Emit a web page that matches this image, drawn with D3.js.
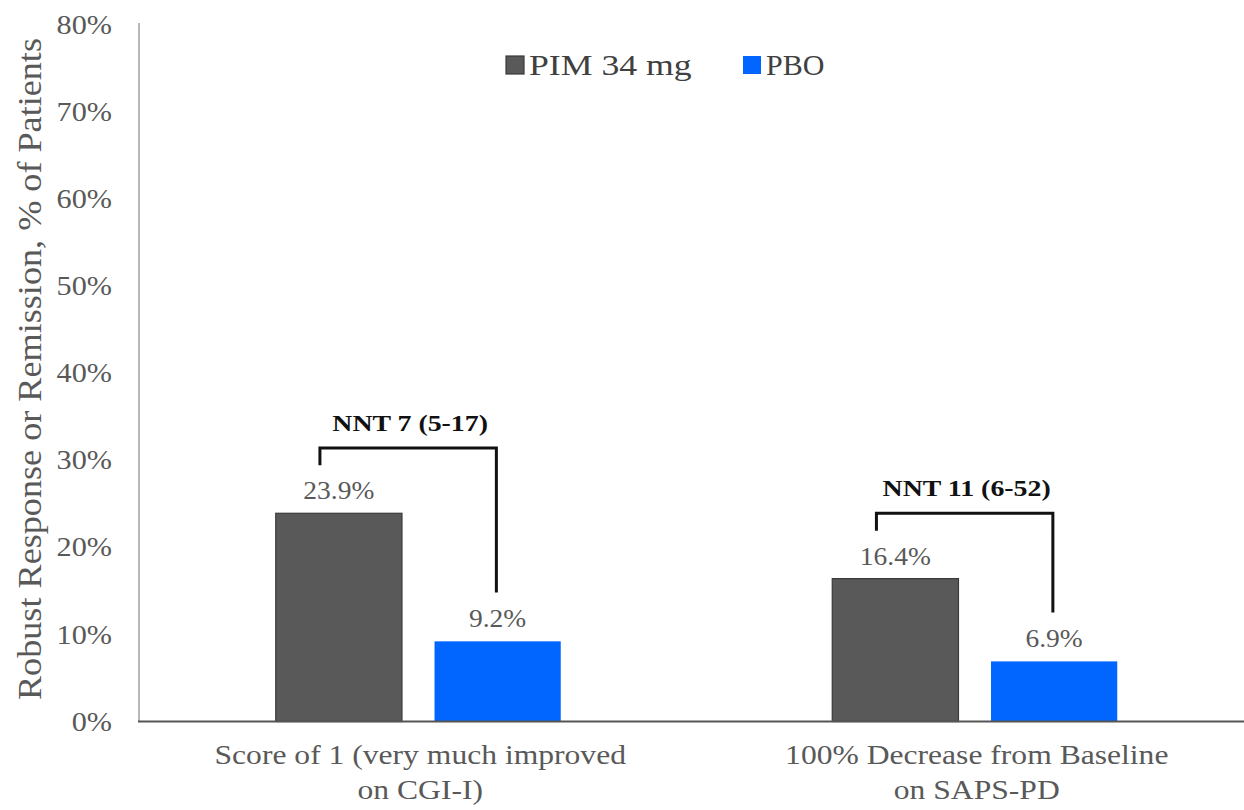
<!DOCTYPE html>
<html>
<head>
<meta charset="utf-8">
<script src="https://cdn.jsdelivr.net/npm/d3@7"></script>
<style>
  html, body { margin: 0; padding: 0; background: #fff; }
  svg { display: block; }
  text { font-family: "Liberation Serif", "Times New Roman", serif; }
</style>
</head>
<body>
<svg id="chart" width="1244" height="810"></svg>
<script>
// Categories (two-line labels) and series
const categories = ["Score of 1 (very much improved|on CGI-I)", "100% Decrease from Baseline|on SAPS-PD"];
const seriesNames = ["PIM 34 mg", "PBO"];
const pimValues = [23.9, 16.4];
const pboValues = [9.2, 6.9];
const nntLabels = ["NNT 7 (5-17)", "NNT 11 (6-52)"];
const yTicks = [0, 10, 20, 30, 40, 50, 60, 70, 80];

const colors = { "PIM 34 mg": "#595959", "PBO": "#0066ff" };
const gray = "#595959";

const svg = d3.select("#chart");

// stretch text horizontally by a factor
function stretch(sel, k) {
  sel.each(function () {
    const w = this.getComputedTextLength();
    this.setAttribute("textLength", w * k);
    this.setAttribute("lengthAdjust", "spacingAndGlyphs");
  });
}

const y = d3.scaleLinear().domain([0, 80]).range([721.5, 24.5]);
const x0 = d3.scaleBand().domain(categories).range([140, 1253]).padding(0);
const bw0 = x0.bandwidth();
const groupW = 285;
const x1 = d3.scaleBand().domain(seriesNames)
  .range([(bw0 - groupW) / 2, (bw0 + groupW) / 2]).paddingInner(0.205);

const rows = categories.map((c, i) => ({
  cat: c, nnt: nntLabels[i],
  vals: [{ s: seriesNames[0], v: pimValues[i] }, { s: seriesNames[1], v: pboValues[i] }]
}));

// Y axis: line + tick labels
const yAxis = d3.axisLeft(y).tickValues(yTicks).tickFormat(d => d + "%").tickSize(0).tickPadding(27);
const gy = svg.append("g").attr("transform", "translate(139,0)").call(yAxis);
gy.select(".domain").attr("stroke", "#a0a0a0").attr("stroke-width", 1.5).attr("d", `M0,${y(80) - 1.5}V${y(0)}`);
gy.selectAll(".tick text")
  .attr("fill", gray).attr("font-size", 27)
  .style("font-family", '"Liberation Serif", "Times New Roman", serif')
  .call(stretch, 1.12);

// Y axis title
svg.append("text")
  .attr("transform", `translate(41,${369}) rotate(-90)`)
  .attr("text-anchor", "middle")
  .attr("font-size", 33)
  .attr("fill", gray)
  .text("Robust Response or Remission, % of Patients")
  .attr("textLength", 662).attr("lengthAdjust", "spacingAndGlyphs");

// Bars
const groups = svg.selectAll("g.cat").data(rows).join("g")
  .attr("class", "cat")
  .attr("transform", d => `translate(${x0(d.cat)},0)`);

groups.selectAll("rect").data(d => d.vals).join("rect")
  .attr("x", d => x1(d.s))
  .attr("y", d => y(d.v))
  .attr("width", x1.bandwidth())
  .attr("height", d => y(0) - y(d.v))
  .attr("fill", d => colors[d.s])
  .attr("stroke", d => d.s === seriesNames[0] ? "#3a3a3a" : "none")
  .attr("stroke-width", 1.2);

// Value labels
groups.selectAll("text.val").data(d => d.vals).join("text")
  .attr("class", "val")
  .attr("x", d => x1(d.s) + x1.bandwidth() / 2)
  .attr("y", d => y(d.v) - 14)
  .attr("text-anchor", "middle")
  .attr("font-size", 25)
  .attr("fill", gray)
  .text(d => d.v.toFixed(1) + "%")
  .call(stretch, 1.1);

// NNT brackets
groups.each(function (d) {
  const g = d3.select(this);
  const pim = d.vals[0], pbo = d.vals[1];
  const xl = x1(pim.s) + x1.bandwidth() * 0.35;
  const xr = x1(pbo.s) + x1.bandwidth() * 0.49;
  const top = y(pim.v + 7.5);
  g.append("path")
    .attr("d", `M${xl},${y(pim.v + 5.5)}V${top}H${xr}V${y(pbo.v + 5.6)}`)
    .attr("fill", "none").attr("stroke", "#111").attr("stroke-width", 3);
  g.append("text")
    .attr("x", (xl + xr) / 2 + 2)
    .attr("y", top - 17)
    .attr("text-anchor", "middle")
    .attr("font-size", 24)
    .attr("font-weight", "bold")
    .attr("fill", "#111")
    .text(d.nnt)
    .call(stretch, 1.16);
});

// Baseline (x axis)
const xAxis = d3.axisBottom(x0).tickSize(0).tickFormat("");
const gx = svg.append("g").attr("transform", `translate(0,${y(0)})`).call(xAxis);
gx.select(".domain").attr("stroke", "#555").attr("stroke-width", 2).attr("d", `M138,0H1253`);

// Category labels (two lines)
gx.selectAll(".tick").each(function (d) {
  const parts = d.split("|");
  const t = d3.select(this).append("text")
    .attr("text-anchor", "middle")
    .attr("font-size", 27)
    .attr("fill", gray);
  parts.forEach((p, i) => {
    t.append("tspan").attr("x", 2).attr("y", 42.5 + i * 35).text(p);
  });
  t.selectAll("tspan").call(stretch, 1.17);
});
gx.selectAll(".tick text").style("font-family", '"Liberation Serif", "Times New Roman", serif');

// Legend
const legendX = [506, 743];
const legendStretch = [1.19, 1.0];
const lg = svg.append("g");
seriesNames.forEach((s, i) => {
  lg.append("rect")
    .attr("x", legendX[i]).attr("y", 56)
    .attr("width", 18).attr("height", 18)
    .attr("fill", colors[s])
    .attr("stroke", i === 0 ? "#3a3a3a" : "none").attr("stroke-width", 1.2);
  lg.append("text")
    .attr("x", legendX[i] + 23).attr("y", 75)
    .attr("font-size", 30)
    .attr("fill", "#404040")
    .text(s)
    .call(stretch, legendStretch[i]);
});
</script>
</body>
</html>
